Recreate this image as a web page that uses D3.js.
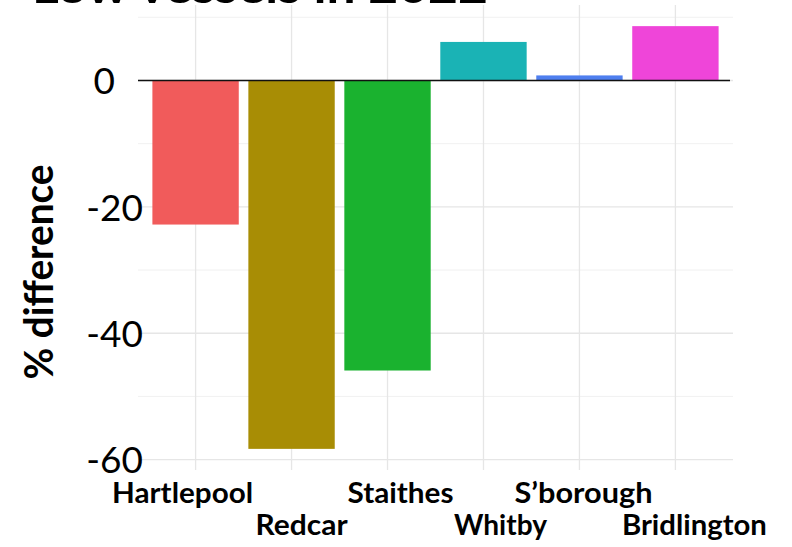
<!DOCTYPE html>
<html>
<head>
<meta charset="utf-8">
<script src="https://cdn.jsdelivr.net/npm/d3@7"></script>
<style>
  html, body { margin: 0; padding: 0; background: #fff; }
  svg { display: block; }
  text { font-family: Lato, "Open Sans", sans-serif; fill: #000; }
</style>
</head>
<body>
<svg id="chart" width="792" height="547"></svg>
<script>
// ---- data ----
const ports = ["Hartlepool", "Redcar", "Staithes", "Whitby", "S\u2019borough", "Bridlington"];
const pctDiff = [-22.8, -58.3, -45.9, 6.1, 0.8, 8.6];
const barColors = ["#F15B5B", "#A88D05", "#1AB22F", "#1AB3B5", "#4F7FEF", "#EF45D9"];
const majorTicks = [0, -20, -40, -60];
const minorTicks = [10, -10, -30, -50];
const titleText = "Low vessels in 2022";
const yTitle = "% difference";

// ---- layout ----
const W = 792, H = 547;
const panel = { left: 138, right: 733, top: 5, bottom: 470 };
const svg = d3.select("#chart");

const x = d3.scalePoint().domain(ports).range([panel.left, panel.right]).padding(0.6);
const step = x.step();
const barW = step * 0.9;

const lo = d3.min(pctDiff), hi = d3.max(pctDiff);
const ext = (hi - lo) * 0.05;
const y = d3.scaleLinear().domain([lo - ext, hi + ext]).range([panel.bottom, panel.top]);

// gridlines
const grid = svg.append("g");
grid.selectAll("line.minor").data(minorTicks).join("line")
  .attr("x1", panel.left).attr("x2", panel.right)
  .attr("y1", d => y(d)).attr("y2", d => y(d))
  .attr("stroke", "#f1f1f1").attr("stroke-width", 1);
grid.selectAll("line.major").data(majorTicks).join("line")
  .attr("x1", panel.left).attr("x2", panel.right)
  .attr("y1", d => y(d)).attr("y2", d => y(d))
  .attr("stroke", "#e6e6e6").attr("stroke-width", 1.3);
grid.selectAll("line.vert").data(ports).join("line")
  .attr("x1", d => x(d)).attr("x2", d => x(d))
  .attr("y1", panel.top).attr("y2", panel.bottom)
  .attr("stroke", "#e6e6e6").attr("stroke-width", 1.3);

// bars
svg.append("g").selectAll("rect").data(ports).join("rect")
  .attr("x", d => x(d) - barW / 2)
  .attr("width", barW)
  .attr("y", (d, i) => Math.min(y(0), y(pctDiff[i])))
  .attr("height", (d, i) => Math.abs(y(pctDiff[i]) - y(0)))
  .attr("fill", (d, i) => barColors[i]);

// zero line
svg.append("line")
  .attr("x1", panel.left).attr("x2", panel.right - 3)
  .attr("y1", y(0)).attr("y2", y(0))
  .attr("stroke", "#111").attr("stroke-width", 1.6);

// y tick labels (plain hyphen-minus as in the reference)
const yAxis = d3.axisLeft(y).tickValues(majorTicks).tickSize(0).tickFormat(d => String(d));
const ya = svg.append("g").attr("transform", `translate(143,0)`).call(yAxis);
ya.select(".domain").remove();
ya.selectAll("text")
  .attr("x", d => d === 0 ? -28 : 0)
  .attr("dy", "0.36em")
  .style("font-family", "Lato, sans-serif")
  .style("font-size", "37px")
  .attr("fill", "#000");

// y axis title
svg.append("text")
  .attr("transform", "translate(53,272) rotate(-90)")
  .attr("text-anchor", "middle")
  .attr("font-weight", "bold")
  .attr("font-size", 41)
  .attr("textLength", 215)
  .attr("lengthAdjust", "spacingAndGlyphs")
  .text(yTitle);

// x labels (staggered in two rows)
const labelDx = [-13, 10, 13, 17, 4, 19];
const labelLen = [141, 92, 106, 93, 138, 145];
svg.append("g").selectAll("text").data(ports).join("text")
  .attr("x", (d, i) => x(d) + labelDx[i])
  .attr("y", (d, i) => i % 2 === 0 ? 503 : 535)
  .attr("text-anchor", "middle")
  .attr("font-weight", "bold")
  .attr("font-size", 28)
  .attr("textLength", (d, i) => labelLen[i])
  .attr("lengthAdjust", "spacingAndGlyphs")
  .text(d => d);

// title (mostly cropped off the top, as in the reference)
svg.append("text")
  .attr("x", 32).attr("y", 3)
  .attr("font-weight", "bold")
  .attr("font-size", 46)
  .attr("textLength", 456)
  .attr("lengthAdjust", "spacingAndGlyphs")
  .text(titleText);
</script>
</body>
</html>
